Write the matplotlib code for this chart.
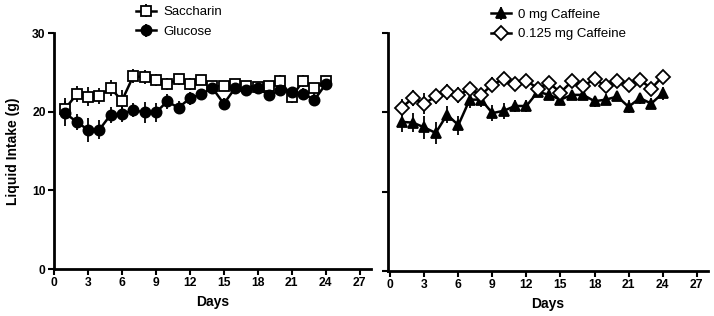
import matplotlib
matplotlib.use('Agg')
import matplotlib.pyplot as plt

plt.rcParams['font.family'] = ['Liberation Sans', 'DejaVu Sans']

days = list(range(1, 25))
x_ticks = [0, 3, 6, 9, 12, 15, 18, 21, 24, 27]
y_ticks = [0, 10, 20, 30]

# left panel
saccharin = [20.4, 22.2, 21.9, 22.0, 23.0, 21.4, 24.5, 24.4, 24.0, 23.5, 24.1, 23.5,
             24.0, 23.2, 23.3, 23.5, 23.3, 23.1, 23.3, 23.9, 21.9, 23.9, 23.0, 23.9]
saccharin_err = [1.3, 1.0, 1.2, 1.0, 1.0, 1.3, 0.9, 0.9, 0.8, 0.8, 0.7, 0.8,
                 0.6, 0.6, 0.6, 0.5, 0.5, 0.6, 0.6, 0.7, 0.8, 0.8, 0.7, 0.6]
glucose = [19.8, 18.7, 17.7, 17.7, 19.6, 19.7, 20.2, 19.9, 19.9, 21.3, 20.5, 21.7,
           22.2, 23.0, 21.0, 23.0, 22.7, 23.0, 22.1, 22.7, 22.5, 22.3, 21.5, 23.5]
glucose_err = [1.6, 1.0, 1.5, 1.2, 1.0, 1.0, 0.9, 1.3, 1.2, 1.0, 0.8, 0.8,
               0.6, 0.6, 0.7, 0.5, 0.5, 0.6, 0.6, 0.6, 0.6, 0.7, 0.7, 0.6]

# right panel
caff_0 = [18.8, 18.7, 18.1, 17.4, 19.7, 18.4, 21.6, 21.6, 19.9, 20.2, 20.8, 20.8,
          22.6, 22.2, 21.6, 22.2, 22.2, 21.4, 21.6, 22.0, 20.7, 21.8, 21.1, 22.4]
caff_0_err = [1.3, 1.2, 1.4, 1.4, 1.1, 1.2, 1.0, 0.9, 1.0, 1.0, 0.8, 0.8,
              0.7, 0.6, 0.6, 0.6, 0.6, 0.7, 0.7, 0.6, 0.8, 0.7, 0.7, 0.8]
caff_125 = [20.6, 21.8, 21.1, 22.0, 22.6, 22.2, 22.9, 22.2, 23.5, 24.2, 23.6, 24.0,
            23.0, 23.7, 22.5, 23.9, 23.3, 24.2, 23.3, 24.0, 23.5, 24.1, 23.0, 24.5]
caff_125_err = [1.1, 1.0, 1.3, 1.0, 1.0, 1.0, 0.9, 0.9, 0.9, 0.9, 0.7, 0.7,
                0.6, 0.6, 0.6, 0.6, 0.6, 0.7, 0.6, 0.6, 0.7, 0.6, 0.6, 0.6]

fig = plt.figure(figsize=(7.14, 3.16), dpi=100)
ax1 = fig.add_axes([54 / 714, 1 - 269 / 316, 317 / 714, 236 / 316])
ax2 = fig.add_axes([388 / 714, 1 - 271 / 316, 320 / 714, 238 / 316])


def draw_series(ax, y, err, marker, face, label, ms=7.3):
    ax.errorbar(days, y, yerr=err, color='black', lw=1.8, elinewidth=1.3,
                capsize=0, marker=marker, markersize=ms, markerfacecolor=face,
                markeredgecolor='black', markeredgewidth=1.3, label=label)


def style_axes(ax, xlim, show_ylabels):
    ax.set_xlim(*xlim)
    ax.set_ylim(0, 30)
    ax.set_xticks(x_ticks)
    ax.set_yticks(y_ticks)
    for side in ['top', 'right']:
        ax.spines[side].set_visible(False)
    for side in ['left', 'bottom']:
        ax.spines[side].set_linewidth(2)
    ax.tick_params(direction='out', length=4, width=1.5, labelsize=8.7, pad=2)
    for lbl in ax.get_xticklabels() + ax.get_yticklabels():
        lbl.set_fontweight('bold')
    if not show_ylabels:
        ax.set_yticklabels([])
    ax.set_xlabel('Days', fontsize=10, fontweight='bold', labelpad=4)


def add_legend(ax, x0, y0):
    ax.legend(loc='upper left', bbox_to_anchor=(x0, y0), frameon=False,
              fontsize=9.5, handlelength=1.5, handletextpad=0.6,
              labelspacing=0.55, borderaxespad=0, borderpad=0)


draw_series(ax1, saccharin, saccharin_err, 's', 'white', 'Saccharin')
draw_series(ax1, glucose, glucose_err, 'o', 'black', 'Glucose')
style_axes(ax1, (0, 28), True)
ax1.set_ylabel('Liquid Intake (g)', fontsize=10, fontweight='bold', labelpad=9)
add_legend(ax1, 0.259, 1.114)

draw_series(ax2, caff_0, caff_0_err, '^', 'black', '0 mg Caffeine')
draw_series(ax2, caff_125, caff_125_err, 'D', 'white', '0.125 mg Caffeine', ms=6.7)
style_axes(ax2, (-0.2, 28), False)
add_legend(ax2, 0.321, 1.102)

fig.savefig('out.png', dpi=100)
